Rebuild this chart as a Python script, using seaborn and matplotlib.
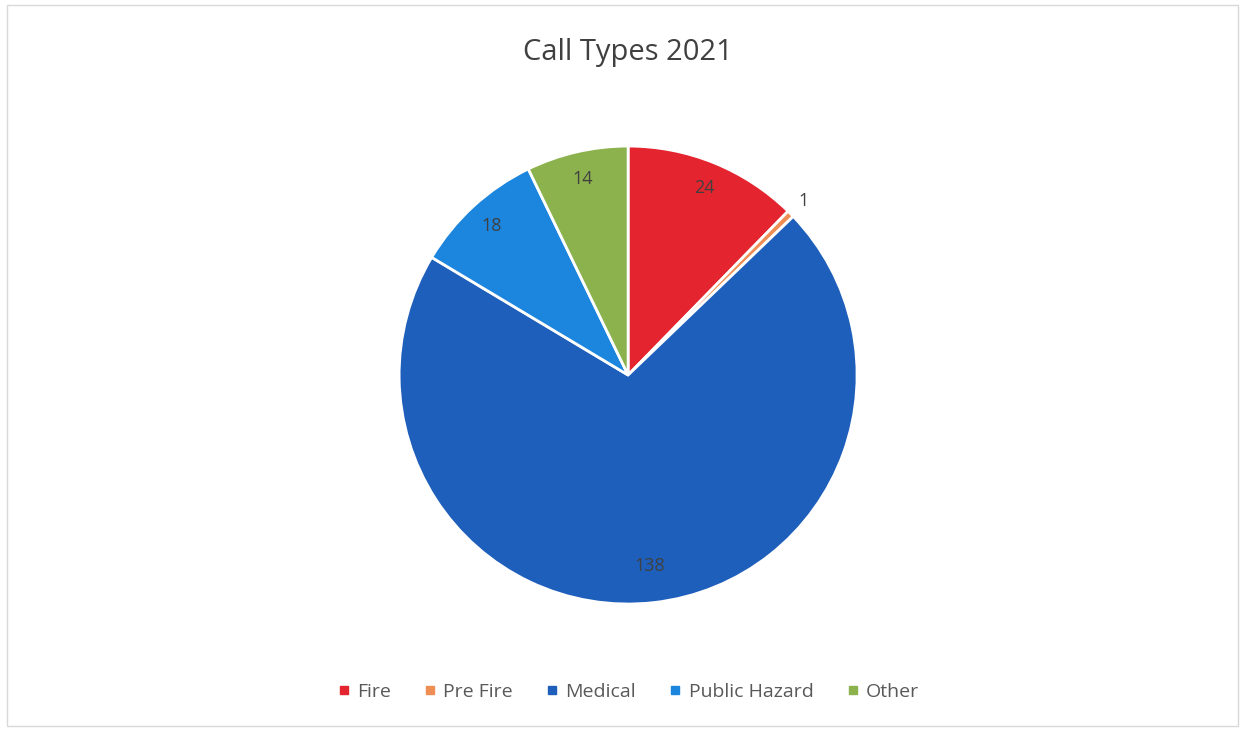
import matplotlib
matplotlib.use("Agg")
import matplotlib.pyplot as plt
import seaborn as sns
import numpy as np
from matplotlib.lines import Line2D
from matplotlib.patches import Rectangle

categories = ["Fire", "Pre Fire", "Medical", "Public Hazard", "Other"]
values = [24, 1, 138, 18, 14]
colors_hex = ["#E4242E", "#EE8E55", "#1F5FBC", "#1C85DE", "#8CB24E"]

sns.set_theme(style="white")
plt.rcParams['font.family'] = ['Open Sans', 'DejaVu Sans']
palette = sns.color_palette(colors_hex)

fig = plt.figure(figsize=(12.45, 7.31), dpi=100)
fig.patch.set_facecolor("white")
fig.patches.append(Rectangle((0.006, 0.007), 0.988, 0.986, transform=fig.transFigure,
                             fill=False, edgecolor="#d9d9d9", linewidth=1))

ax = fig.add_axes([0.3205, 0.1737, 0.368, 0.6265])
wedges, texts = ax.pie(values, colors=palette, startangle=90, counterclock=False,
                       wedgeprops=dict(edgecolor="white", linewidth=2))
ax.set_xlim(-1, 1)
ax.set_ylim(-1, 1)
ax.set_aspect("equal")
ax.axis("off")

total = sum(values)
for v, w in zip(values, wedges):
    mid = np.deg2rad((w.theta1 + w.theta2) / 2)
    r = 1.08 if v / total < 0.02 else (0.84 if v / total > 0.5 else 0.88)
    ax.text(r * np.cos(mid), r * np.sin(mid), str(v), ha="center", va="center",
            fontsize=13, color="#404040")

fig.text(0.504, 0.928, "Call Types 2021", ha="center", va="center", fontsize=21, color="#404040")

handles = [Line2D([0], [0], marker="s", linestyle="", markersize=6,
                  markerfacecolor=c, markeredgecolor=c) for c in palette]
fig.legend(handles, categories, loc="center", bbox_to_anchor=(0.504, 0.053), ncol=5,
           frameon=False, fontsize=14, labelcolor="#595959", handlelength=0.8,
           handletextpad=0.3, columnspacing=1.6)

fig.savefig("out.png", dpi=100)
